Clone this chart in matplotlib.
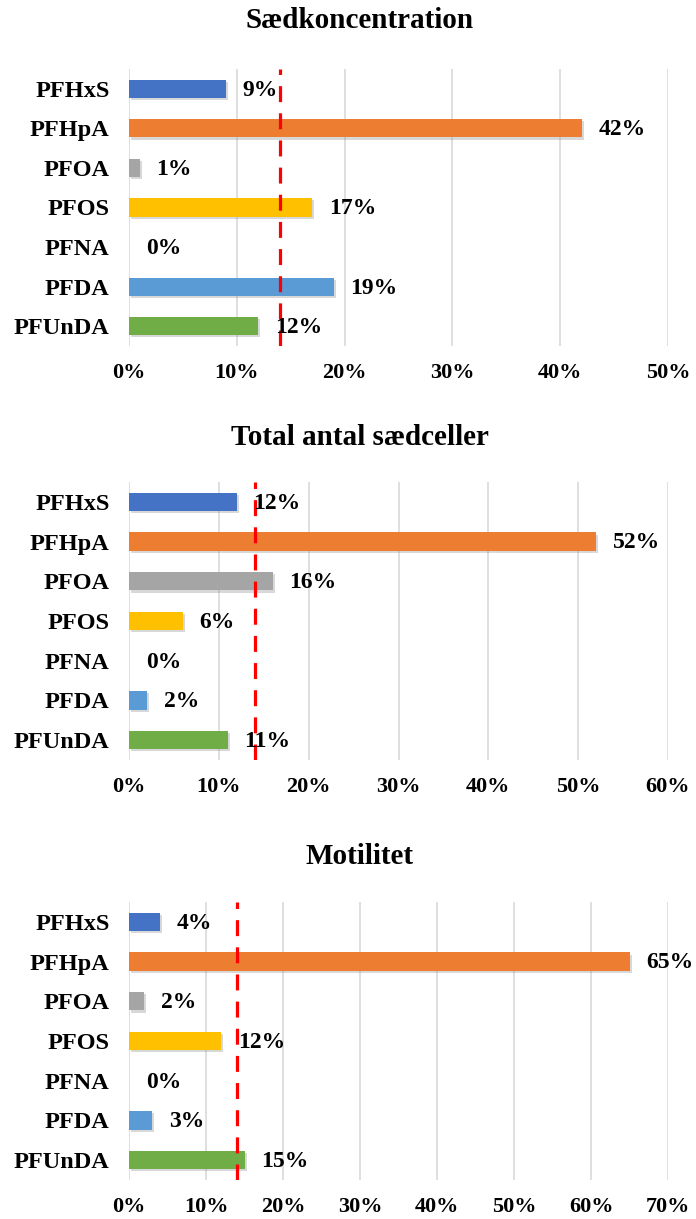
import matplotlib.pyplot as plt
import matplotlib.patheffects as pe
from matplotlib.ticker import MultipleLocator, FuncFormatter

plt.rcParams['font.family'] = ['Liberation Serif', 'DejaVu Serif']
plt.rcParams['font.weight'] = 'bold'

compounds = ['PFHxS', 'PFHpA', 'PFOA', 'PFOS', 'PFNA', 'PFDA', 'PFUnDA']
colors = ['#4472C4', '#ED7D31', '#A5A5A5', '#FFC000', '#264478', '#5B9BD5', '#70AD47']

titles = ['Sædkoncentration', 'Total antal sædceller', 'Motilitet']
conc = [9, 42, 1, 17, 0, 19, 12]
total = [12, 52, 16, 6, 0, 2, 11]
motil = [4, 65, 2, 12, 0, 3, 15]
xmax = [50, 60, 70]
threshold = 14

W, H = 696, 1219
fig = plt.figure(figsize=(W / 100, H / 100), dpi=100)

# axes boxes in pixels: (top, bottom), and title centre y
boxes = [(69, 346), (482, 760), (902, 1180)]
title_y = [20, 438, 856]
left, right = 129, 668

for i, vals in enumerate([conc, total, motil]):
    top, bot = boxes[i]
    ax = fig.add_axes([left / W, 1 - bot / H, (right - left) / W, (bot - top) / H])
    y = list(range(len(compounds)))
    bars = ax.barh(y, vals, height=0.46, color=colors, zorder=3)
    for b in bars:
        b.set_path_effects([pe.SimplePatchShadow(offset=(1.5, -1.5), shadow_rgbFace='grey', alpha=0.3),
                            pe.Normal()])
    for yy, v in zip(y, vals):
        ax.annotate(f'{v}%', (v, yy), xytext=(12, -1), textcoords='offset points',
                    va='center', ha='left', fontsize=17, fontweight='bold', zorder=5)
    ax.axvline(threshold, color='#FF0000', lw=2.3, ls=(0, (5, 3.5)), zorder=4)

    ax.set_xlim(0, xmax[i])
    ax.set_ylim(len(compounds) - 0.5, -0.5)
    ax.set_yticks(y)
    ax.set_yticklabels(compounds, fontsize=17.5, fontweight='bold')
    ax.xaxis.set_major_locator(MultipleLocator(10))
    ax.xaxis.set_major_formatter(FuncFormatter(lambda v, p: f'{v:.0f}%'))
    for lab in ax.get_xticklabels():
        lab.set_fontweight('bold')
    ax.tick_params(axis='x', length=0, pad=12, labelsize=16)
    ax.tick_params(axis='y', length=0, pad=14)
    ax.grid(axis='x', color='#D9D9D9', lw=1.2, zorder=0)
    for s in ax.spines.values():
        s.set_visible(False)

    fig.text(360 / W, 1 - title_y[i] / H, titles[i], ha='center', va='center',
             fontsize=21, fontweight='bold')

fig.savefig('out.png', dpi=100)
